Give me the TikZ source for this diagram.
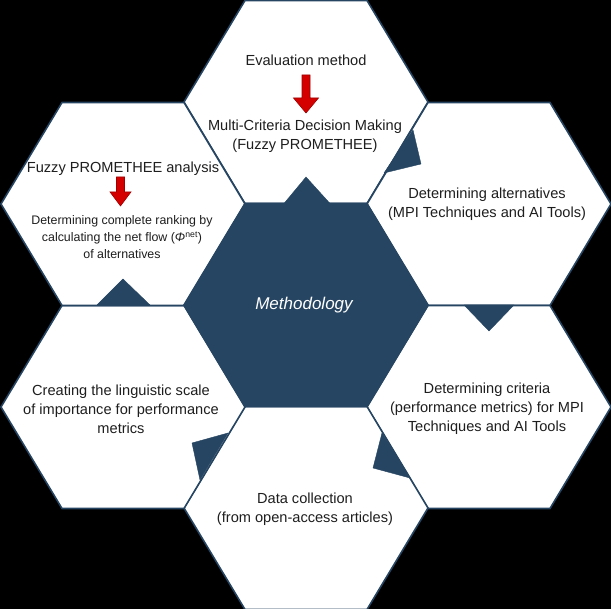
\documentclass[tikz,border=0pt]{standalone}
\usepackage{fontspec}
\setmainfont{Liberation Sans}
\definecolor{navy}{HTML}{264562}
\definecolor{arrred}{HTML}{D40000}
\definecolor{arrdark}{HTML}{A00000}
\definecolor{txt}{HTML}{1E1E1E}
\tikzset{
  hexcell/.style={fill=white, draw=navy, line width=1.6pt, line join=miter},
  hexcenter/.style={fill=navy, draw=navy, line width=1.6pt},
  notch/.style={fill=navy, draw=navy, line width=0.4pt, line join=round},
  redarrow/.style={fill=arrred, draw=arrdark, line width=0.6pt},
  label/.style={align=center, inner sep=0pt, text=txt, font=\fontsize{14.6}{19}\selectfont},
  smalllabel/.style={align=center, inner sep=0pt, text=txt, font=\fontsize{12.4}{17}\selectfont},
}
\newcommand{\hexat}[3]{% style, cx, cy
  \path[#1] (#2-122,#3) -- (#2-61,#3-101.5) -- (#2+61,#3-101.5) -- (#2+122,#3)
    -- (#2+61,#3+101.5) -- (#2-61,#3+101.5) -- cycle;}
\begin{document}
\begin{tikzpicture}[x=1pt,y=-1pt]
\fill[black] (0,0) rectangle (611,609);
\useasboundingbox (0,0) rectangle (611,609);
% hexagons
\hexat{hexcell}{306}{102}
\hexat{hexcell}{489}{204}
\hexat{hexcell}{489}{407}
\hexat{hexcell}{306}{508}
\hexat{hexcell}{123}{407}
\hexat{hexcell}{123}{204}
\hexat{hexcenter}{306}{305}
% direction notches
\path[notch] (284,203.5) -- (306,177) -- (330,203.5) -- cycle;
\path[notch] (413,130) -- (421,164) -- (384,173) -- cycle;
\path[notch] (464,305) -- (514,305) -- (489,331) -- cycle;
\path[notch] (382,433) -- (373,468) -- (410,478) -- cycle;
\path[notch] (228,433) -- (192,443) -- (200,480) -- cycle;
\path[notch] (97,305) -- (150,305) -- (123,279) -- cycle;
% red arrows
\path[redarrow] (302,75) -- (310,75) -- (310,98) -- (318.5,98) -- (306,113)
  -- (293.5,98) -- (302,98) -- cycle;
\path[redarrow] (116.5,177) -- (124.5,177) -- (124.5,192) -- (131,192) -- (120.5,206)
  -- (110,192) -- (116.5,192) -- cycle;
% texts
\node[label] (evalm) at (306,60) {Evaluation method};
\node[label] (mcdm) at (305,136.5) {Multi-Criteria Decision Making\\(Fuzzy PROMETHEE)};
\node[label] (alts) at (487,204.5) {Determining alternatives\\(MPI Techniques and AI Tools)};
\node[label] (crit) at (487,409) {Determining criteria\\(performance metrics) for MPI\\Techniques and AI Tools};
\node[label] (data) at (305,509) {Data collection\\(from open-access articles)};
\node[label] (scale) at (121,409) {Creating the linguistic scale\\of importance for performance\\metrics};
\node[label] (fpa) at (123,169) {Fuzzy PROMETHEE analysis};
\node[smalllabel] (rank) at (122,237) {Determining complete ranking by\\calculating the net flow ({\itshape Φ}\textsuperscript{net})\\of alternatives};
\node[align=center, inner sep=0pt, text=white, font=\fontsize{17}{20}\selectfont\itshape] (meth) at (304,305) {Methodology};
\end{tikzpicture}
\end{document}
